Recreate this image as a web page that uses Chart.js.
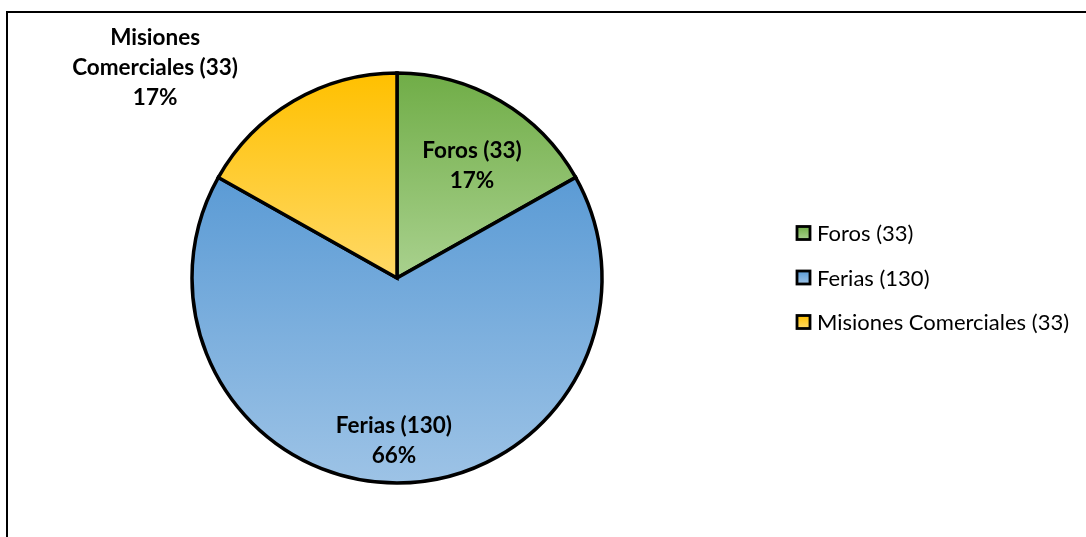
<!DOCTYPE html>
<html><head><meta charset="utf-8">
<script src="https://cdn.jsdelivr.net/npm/chart.js@4.4.0/dist/chart.umd.min.js"></script>
<style>html,body{margin:0;padding:0;background:#fff}#wrap{width:1086px;height:537px;position:relative}</style>
</head><body><div id="wrap"><canvas id="c" width="1086" height="537"></canvas></div>
<script>
const categories = ['Foros (33)', 'Ferias (130)', 'Misiones Comerciales (33)'];
const labelLines = [['Foros (33)'], ['Ferias (130)'], ['Misiones', 'Comerciales (33)']];
const values = [33, 130, 33];
const gradTop = ['#70ad47', '#5b9bd5', '#ffc000'];
const gradBottom = ['#a9d18e', '#9dc3e6', '#ffd966'];
// label centre offsets (fractions of radius from pie centre)
const labelPos = [[0.366, -0.55], [-0.015, 0.795], [-1.18, -1.025]];
const PIE_R = 205;

const FONT = 'Lato, Carlito, "Liberation Sans", sans-serif';

function sliceBox(chart, i) {
  const ca = chart.chartArea;
  const cx = (ca.left + ca.right) / 2, cy = (ca.top + ca.bottom) / 2;
  const total = values.reduce((a, b) => a + b, 0);
  let start = -Math.PI / 2;
  for (let k = 0; k < i; k++) start += values[k] / total * 2 * Math.PI;
  const end = start + values[i] / total * 2 * Math.PI;
  let minY = cy, maxY = cy;
  for (let s = 0; s <= 200; s++) {
    const a = start + (end - start) * s / 200;
    const y = cy + PIE_R * Math.sin(a);
    minY = Math.min(minY, y); maxY = Math.max(maxY, y);
  }
  return [minY, maxY];
}

function sliceGradient(ctx, i) {
  const chart = ctx.chart;
  if (!chart.chartArea) return gradTop[i];
  const [top, bottom] = sliceBox(chart, i);
  const g = chart.ctx.createLinearGradient(0, top, 0, bottom);
  g.addColorStop(0, gradTop[i]);
  g.addColorStop(1, gradBottom[i]);
  return g;
}

const overlay = {
  id: 'overlay',
  beforeDraw(chart) {
    const c = chart.ctx;
    c.save();
    c.strokeStyle = '#000';
    c.lineWidth = 2;
    c.beginPath();
    c.moveTo(7, 600); c.lineTo(7, 12); c.lineTo(1100, 12);
    c.stroke();
    c.restore();
  },
  afterDraw(chart) {
    const c = chart.ctx;
    const meta = chart.getDatasetMeta(0);
    const total = values.reduce((a, b) => a + b, 0);
    c.save();
    c.fillStyle = '#000';
    c.textAlign = 'center';
    c.textBaseline = 'middle';
    c.font = 'bold 22.5px ' + FONT;
    meta.data.forEach((arc, i) => {
      const r = arc.outerRadius;
      const cx = arc.x + labelPos[i][0] * r;
      const cy = arc.y + labelPos[i][1] * r;
      const lines = labelLines[i].concat([Math.round(values[i] / total * 100) + '%']);
      const lh = 30;
      const y0 = cy - (lines.length - 1) * lh / 2;
      lines.forEach((t, k) => c.fillText(t, cx, y0 + k * lh));
    });
    // legend
    c.textAlign = 'left';
    c.font = '22px ' + FONT;
    const lx = 797, ly0 = 233, step = 44.5, sz = 13;
    categories.forEach((name, i) => {
      const y = ly0 + i * step;
      const g = c.createLinearGradient(0, y - sz / 2, 0, y + sz / 2);
      g.addColorStop(0, gradTop[i]); g.addColorStop(1, gradBottom[i]);
      c.fillStyle = g;
      c.fillRect(lx, y - sz / 2, sz, sz);
      c.strokeStyle = '#000'; c.lineWidth = 2.8;
      c.strokeRect(lx, y - sz / 2, sz, sz);
      c.fillStyle = '#000';
      c.fillText(name, lx + sz + 7, y + 1);
    });
    c.restore();
  }
};

new Chart(document.getElementById('c'), {
  type: 'pie',
  data: {
    labels: categories,
    datasets: [{
      data: values,
      backgroundColor: (ctx) => sliceGradient(ctx, ctx.dataIndex),
      borderColor: '#000',
      borderWidth: 3.5,
      borderJoinStyle: 'miter'
    }]
  },
  options: {
    responsive: false,
    animation: false,
    radius: PIE_R,
    layout: { padding: { left: 0, right: 292, top: 19, bottom: 0 } },
    plugins: { legend: { display: false }, tooltip: { enabled: false } }
  },
  plugins: [overlay]
});
</script></body></html>
